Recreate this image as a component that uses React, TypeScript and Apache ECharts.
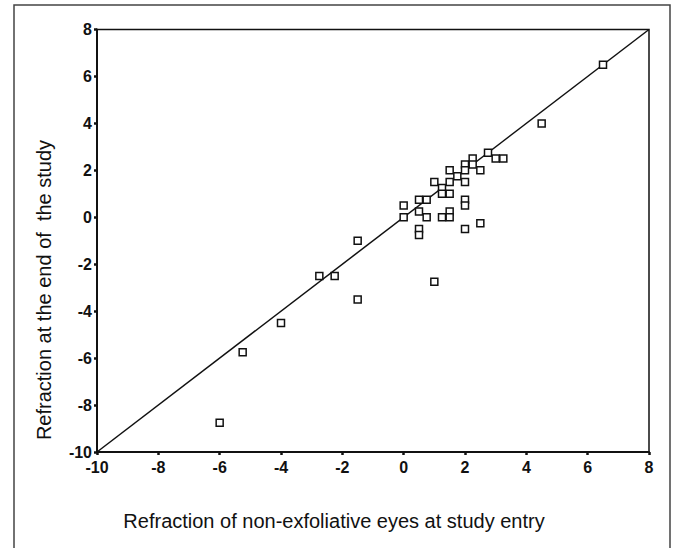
import React, { useEffect, useRef } from "react";
import * as echarts from "echarts";

const xTicks = [-10, -8, -6, -4, -2, 0, 2, 4, 6, 8];
const yTicks = [-10, -8, -6, -4, -2, 0, 2, 4, 6, 8];

const entryRefraction = [
  6.5, 4.5, 3.25, 3, 2.75, 2.5, 2.25, 2.25, 2, 2, 1.75, 1.5, 2, 1, 1.5, 1.25, 1.25, 1.5,
  0.5, 0.75, 0, 0.5, 0, 0.75, 1.25, 1.5, 1.5, 2, 2, 0.5, 0.5, 2, 2.5, 1, -1.5, -2.75,
  -2.25, -1.5, -4, -5.25, -6,
];
const endRefraction = [
  6.5, 4, 2.5, 2.5, 2.75, 2, 2.5, 2.25, 2.25, 2, 1.75, 2, 1.5, 1.5, 1.5, 1.25, 1, 1,
  0.75, 0.75, 0.5, 0.25, 0, 0, 0, 0.25, 0, 0.75, 0.5, -0.5, -0.75, -0.5, -0.25, -2.75, -1,
  -2.5, -2.5, -3.5, -4.5, -5.75, -8.75,
];
const identityLine = [
  [-10, -10],
  [8, 8],
];

const xTitle = "Refraction of non-exfoliative eyes at study entry";
const yTitle = "Refraction at the end of  the study";

export default function App() {
  const ref = useRef<HTMLDivElement>(null);
  useEffect(() => {
    if (!ref.current) return;
    const chart = echarts.init(ref.current, undefined, { renderer: "svg" });
    const pts = entryRefraction.map((x, i) => [x, endRefraction[i]]);
    const font = "'Liberation Sans', Arial, sans-serif";
    chart.setOption({
      animation: false,
      backgroundColor: "#fff",
      grid: {
        left: 97,
        right: 24,
        top: 29.5,
        bottom: 96,
        show: true,
        borderColor: "#111",
        borderWidth: 1.5,
      },
      xAxis: {
        type: "value",
        min: -10,
        max: 8,
        interval: 2,
        splitLine: { show: false },
        axisLine: { show: true, onZero: false, lineStyle: { color: "#111", width: 2 } },
        axisTick: { show: true, length: 3, lineStyle: { color: "#111", width: 2.5 } },
        axisLabel: {
          color: "#111",
          fontFamily: font,
          fontSize: 16,
          fontWeight: "bold",
          margin: 7,
          formatter: (v: number) => (xTicks.includes(v) ? String(v) : ""),
        },
      },
      yAxis: {
        type: "value",
        min: -10,
        max: 8,
        interval: 2,
        splitLine: { show: false },
        axisLine: { show: true, onZero: false, lineStyle: { color: "#111", width: 2 } },
        axisTick: { show: true, length: 3, lineStyle: { color: "#111", width: 2.5 } },
        axisLabel: {
          color: "#111",
          fontFamily: font,
          fontSize: 16,
          fontWeight: "bold",
          margin: 5,
          formatter: (v: number) => (yTicks.includes(v) ? String(v) : ""),
        },
      },
      graphic: [
        {
          type: "rect",
          shape: { x: 14, y: 5, width: 656, height: 600 },
          style: { fill: "none", stroke: "#444", lineWidth: 1.5 },
          silent: true,
          z: -1,
        },
        {
          type: "text",
          x: 334,
          y: 521,
          style: {
            text: xTitle,
            fontFamily: font,
            fontSize: 20,
            fill: "#111",
            textAlign: "center",
            textVerticalAlign: "middle",
          },
        },
        {
          type: "text",
          x: 44,
          y: 290,
          rotation: Math.PI / 2,
          style: {
            text: yTitle,
            fontFamily: font,
            fontSize: 20,
            fill: "#111",
            textAlign: "center",
            textVerticalAlign: "middle",
          },
        },
      ],
      series: [
        {
          type: "line",
          data: identityLine,
          symbol: "none",
          lineStyle: { color: "#111", width: 1.5 },
          z: 1,
        },
        {
          type: "scatter",
          data: pts,
          symbol: "rect",
          symbolSize: 7,
          itemStyle: { color: "#fff", borderColor: "#111", borderWidth: 1.5, opacity: 1 },
          z: 2,
        },
      ],
    });
    return () => chart.dispose();
  }, []);
  return <div ref={ref} style={{ width: 673, height: 548, position: "absolute", left: 0, top: 0 }} />;
}
